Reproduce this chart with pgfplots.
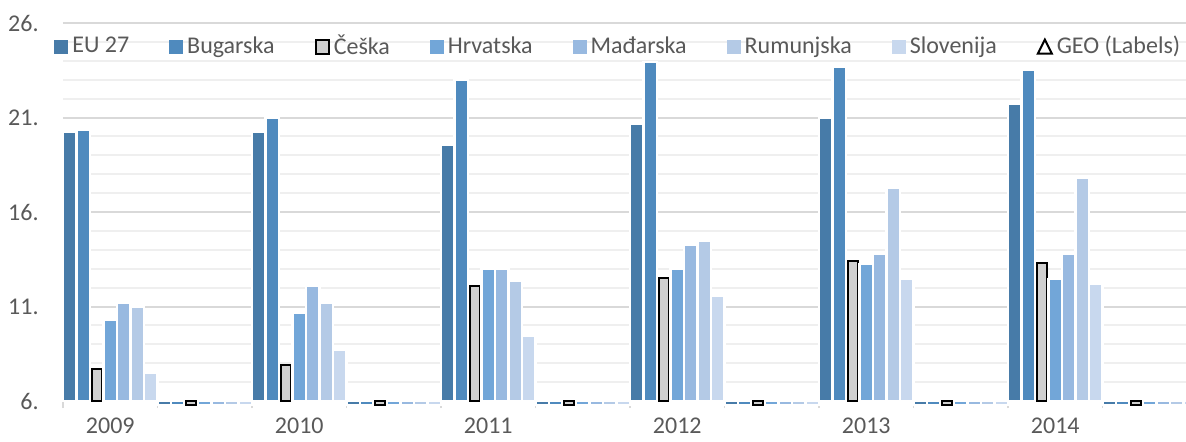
\documentclass[border=0pt]{standalone}
\usepackage{fontspec}
\setmainfont{Carlito}
\usepackage{pgfplots}
\usepackage{pgfplotstable}
\pgfplotsset{compat=1.18}
\definecolor{cEU}{HTML}{477BA8}
\definecolor{cBG}{HTML}{4F8ABE}
\definecolor{cCZ}{HTML}{D0D0D0}
\definecolor{cHR}{HTML}{72A6D8}
\definecolor{cHU}{HTML}{98B9E0}
\definecolor{cRO}{HTML}{B4CAE6}
\definecolor{cSI}{HTML}{C8D8EE}
\definecolor{txt}{HTML}{595959}
\definecolor{gmaj}{HTML}{D9D9D9}
\definecolor{gmin}{HTML}{EFEFEF}
\pgfplotstableread{
x  eu    bg    cz    hr    hu    ro    si
0  20.26 20.37 7.72  10.28 11.18 10.98 7.48
1  5.8   5.8   5.8   5.8   5.8   5.8   5.8
2  20.26 20.97 7.90  10.68 12.08 11.18 8.71
3  5.8   5.8   5.8   5.8   5.8   5.8   5.8
4  19.57 22.98 12.10 12.98 12.98 12.38 9.47
5  5.8   5.8   5.8   5.8   5.8   5.8   5.8
6  20.67 23.95 12.50 12.98 14.25 14.46 11.57
7  5.8   5.8   5.8   5.8   5.8   5.8   5.8
8  20.98 23.66 13.40 13.26 13.78 17.26 12.46
9  5.8   5.8   5.8   5.8   5.8   5.8   5.8
10 21.72 23.52 13.30 12.46 13.78 17.80 12.20
11 5.8   5.8   5.8   5.8   5.8   5.8   5.8
}\data
\begin{document}
\fontsize{12}{14.4}\selectfont
\begin{tikzpicture}
\begin{axis}[
  at={(0pt,0pt)}, anchor=south west,
  scale only axis, width=567pt, height=189pt,
  xmin=-0.5, xmax=11.5, ymin=6, ymax=26,
  y coord trafo/.code={\pgfmathparse{#1-6}},
  y coord inv trafo/.code={\pgfmathparse{#1+6}},
  clip=false,
  ybar, bar width=6.75pt,
  legend image code/.code={\fill[#1,draw=none] (0pt,-3.5pt) rectangle (7pt,3.5pt);},
  separate axis lines,
  axis x line*=bottom, axis y line*=left,
  x axis line style={draw=gmaj, line width=1pt},
  y axis line style={draw=none},
  tick align=outside,
  major tick length=0pt, minor tick length=3.5pt,
  xtick={0,2,4,6,8,10},
  xticklabels={2009,2010,2011,2012,2013,2014},
  minor xtick={-0.5,0.5,...,11.5},
  xtick style={draw=gmaj, line width=0.8pt},
  xticklabel style={yshift=-7.5pt, inner sep=1pt},
  ytick={6,11,16,21,26},
  yticklabels={6.,11.,16.,21.,26.},
  minor y tick num=4,
  ytick style={draw=none},
  yticklabel style={xshift=-8pt},
  tick label style={text=txt},
  ymajorgrids, yminorgrids,
  major grid style={draw=gmaj, line width=1pt},
  minor grid style={draw=gmin, line width=1pt},
  legend columns=8,
  legend style={at={(axis description cs:-0.008,0.937)}, anchor=west,
    draw=none, fill=none, inner sep=0pt,
    nodes={text=txt},
    /tikz/every even column/.append style={column sep=18pt}},
]
\addplot[fill=cEU, draw=white, line width=1.25pt, bar shift=-20.25pt] table[x=x,y=eu]{\data};
\addlegendentry{EU 27}
\addplot[fill=cBG, draw=white, line width=1.25pt, bar shift=-13.5pt] table[x=x,y=bg]{\data};
\addlegendentry{Bugarska}
\addplot[fill=cCZ, draw=black, line width=1pt, bar shift=-6.75pt, bar width=4.9pt,
  legend image code/.code={\draw[fill=cCZ,draw=black,line width=1pt] (0.4pt,-3.4pt) rectangle (7pt,3.4pt);}] table[x=x,y=cz]{\data};
\addlegendentry{Češka}
\addplot[fill=cHR, draw=white, line width=1.25pt, bar shift=0pt] table[x=x,y=hr]{\data};
\addlegendentry{Hrvatska}
\addplot[fill=cHU, draw=white, line width=1.25pt, bar shift=6.75pt] table[x=x,y=hu]{\data};
\addlegendentry{Mađarska}
\addplot[fill=cRO, draw=white, line width=1.25pt, bar shift=13.5pt] table[x=x,y=ro]{\data};
\addlegendentry{Rumunjska}
\addplot[fill=cSI, draw=white, line width=1.25pt, bar shift=20.25pt] table[x=x,y=si]{\data};
\addlegendentry{Slovenija}
\addlegendimage{legend image code/.code={\draw[black,line width=1pt,line join=miter] (0.3pt,-3.4pt) -- (7.3pt,-3.4pt) -- (3.8pt,3.6pt) -- cycle;}}
\addlegendentry{GEO (Labels)}
\end{axis}
\pgfresetboundingbox
\useasboundingbox (-31.5pt,-20pt) rectangle (561.5pt,200.5pt);
\end{tikzpicture}
\end{document}
